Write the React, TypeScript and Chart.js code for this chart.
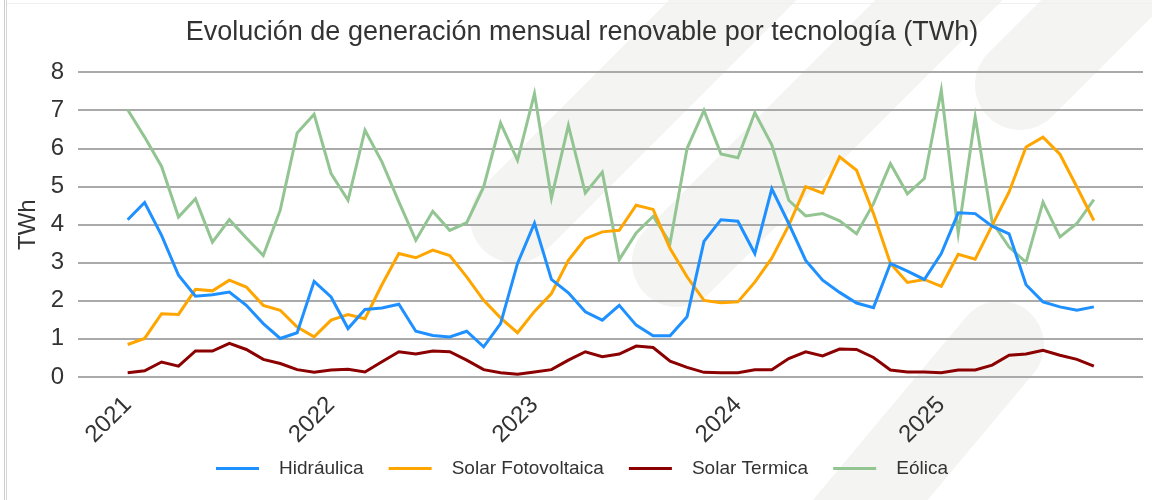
import React, { useEffect, useRef } from 'react';
import { Chart, registerables } from 'chart.js';

Chart.register(...registerables);

// Monthly series, Jan 2021 .. Oct 2025 (TWh)
const years = ['2021', '2022', '2023', '2024', '2025'];
const monthNames = ['ene', 'feb', 'mar', 'abr', 'may', 'jun', 'jul', 'ago', 'sep', 'oct', 'nov', 'dic'];

const hidraulica = [
  4.13, 4.58, 3.72, 2.67, 2.12, 2.16, 2.23, 1.88, 1.40, 1.01,
  1.16, 2.51, 2.10, 1.27, 1.77, 1.81, 1.91, 1.20, 1.09, 1.05,
  1.20, 0.79, 1.40, 2.98, 4.04, 2.56, 2.21, 1.71, 1.49, 1.88,
  1.36, 1.08, 1.08, 1.58, 3.56, 4.13, 4.09, 3.24, 4.94, 4.03,
  3.06, 2.54, 2.22, 1.94, 1.82, 2.98, 2.78, 2.56, 3.24, 4.31,
  4.29, 3.96, 3.76, 2.42, 1.97, 1.84, 1.75, 1.84,
];

const solarFotovoltaica = [
  0.85, 1.01, 1.66, 1.64, 2.30, 2.26, 2.54, 2.36, 1.88, 1.75,
  1.31, 1.05, 1.49, 1.64, 1.53, 2.42, 3.24, 3.13, 3.33, 3.19,
  2.63, 2.01, 1.55, 1.16, 1.72, 2.19, 3.06, 3.63, 3.81, 3.85,
  4.51, 4.40, 3.37, 2.63, 2.01, 1.95, 1.97, 2.49, 3.12, 3.98,
  5.00, 4.83, 5.78, 5.43, 4.29, 2.98, 2.48, 2.56, 2.38, 3.22,
  3.09, 3.98, 4.86, 6.04, 6.30, 5.85, 4.99, 4.11,
];

const solarTermica = [
  0.11, 0.16, 0.39, 0.28, 0.68, 0.68, 0.88, 0.72, 0.46, 0.35,
  0.19, 0.12, 0.18, 0.20, 0.13, 0.40, 0.66, 0.60, 0.68, 0.66,
  0.44, 0.19, 0.11, 0.07, 0.13, 0.19, 0.44, 0.66, 0.53, 0.60,
  0.81, 0.77, 0.41, 0.25, 0.12, 0.11, 0.11, 0.19, 0.19, 0.48,
  0.66, 0.55, 0.73, 0.72, 0.51, 0.18, 0.13, 0.13, 0.11, 0.18,
  0.18, 0.31, 0.57, 0.60, 0.70, 0.57, 0.46, 0.28,
];

const eolica = [
  7.02, 6.30, 5.53, 4.20, 4.68, 3.54, 4.13, 3.65, 3.19, 4.38,
  6.41, 6.90, 5.34, 4.64, 6.48, 5.65, 4.60, 3.59, 4.35, 3.85,
  4.05, 4.99, 6.67, 5.69, 7.44, 4.70, 6.61, 4.83, 5.38, 3.08,
  3.78, 4.22, 3.52, 6.00, 7.00, 5.86, 5.76, 6.94, 6.10, 4.64,
  4.23, 4.29, 4.10, 3.76, 4.55, 5.60, 4.81, 5.21, 7.53, 3.78,
  6.83, 4.07, 3.41, 3.01, 4.59, 3.68, 4.03, 4.66,
];

const months: string[] = [];
years.forEach((y) => monthNames.forEach((m) => months.push(`${m} ${y}`)));

const seriesNames = ['Hidráulica', 'Solar Fotovoltaica', 'Solar Termica', 'Eólica'];
const seriesColors = ['#1e90ff', '#ffa500', '#8b0000', '#93c593'];
const seriesValues = [hidraulica, solarFotovoltaica, solarTermica, eolica];

const FONT = "'Liberation Sans', Arial, sans-serif";

const PAD_LEFT = 21;

// faint background watermark (decorative rounded diagonal bars)
const watermarkBars = [
  { x0: 515, y0: 218, x1: 800, y1: -67, w: 90 },
  { x0: 677, y0: 262, x1: 1000, y1: -61, w: 90 },
  { x0: 1020, y0: 85, x1: 1200, y1: -95, w: 90 },
  { x0: 820, y0: 560, x1: 1000, y1: 345, w: 88 },
];

const watermarkPlugin = {
  id: 'watermark',
  beforeDraw(chart: any) {
    const ctx = chart.ctx;
    ctx.save();
    ctx.strokeStyle = '#f4f4f2';
    ctx.lineCap = 'round';
    watermarkBars.forEach((b) => {
      ctx.lineWidth = b.w;
      ctx.beginPath();
      ctx.moveTo(b.x0, b.y0);
      ctx.lineTo(b.x1, b.y1);
      ctx.stroke();
    });
    ctx.restore();
  },
};

export default function App() {
  const ref = useRef<HTMLCanvasElement>(null);

  useEffect(() => {
    if (!ref.current) return;
    const chart = new Chart(ref.current, {
      type: 'line',
      plugins: [watermarkPlugin],
      data: {
        datasets: seriesValues.map((vals, i) => ({
          label: seriesNames[i],
          data: vals.map((v, k) => ({ x: k, y: v, m: months[k] })),
          borderColor: seriesColors[i],
          backgroundColor: seriesColors[i],
          borderWidth: 3,
          pointRadius: 0,
          tension: 0,
          fill: false,
        })),
      },
      options: {
        animation: false,
        responsive: false,
        maintainAspectRatio: false,
        layout: { padding: { left: PAD_LEFT, right: 9, top: 0, bottom: 12 } },
        plugins: {
          tooltip: { enabled: false },
          title: {
            display: true,
            text: 'Evolución de generación mensual renovable por tecnología (TWh)',
            color: '#333333',
            font: { family: FONT, size: 27, weight: 'normal' },
            padding: { top: 16, bottom: 24 },
          },
          legend: {
            display: true,
            position: 'bottom',
            labels: {
              boxWidth: 43,
              boxHeight: 3,
              padding: 4,
              color: '#333333',
              font: { family: FONT, size: 19 },
              generateLabels: (c: any) =>
                c.data.datasets.map((ds: any, i: number, arr: any[]) => ({
                  text: '  ' + ds.label + (i < arr.length - 1 ? '    ' : ''),
                  fillStyle: ds.borderColor,
                  strokeStyle: ds.borderColor,
                  lineWidth: 0,
                  hidden: false,
                  datasetIndex: i,
                  fontColor: '#333333',
                })),
            },
          },
        },
        scales: {
          x: {
            type: 'linear',
            min: -2.93,
            max: 59.9,
            grid: { display: false },
            border: { display: false },
            afterBuildTicks: (s: any) => {
              s.ticks = years.map((_, k) => ({ value: k * 12 }));
            },
            ticks: {
              autoSkip: false,
              minRotation: 45,
              maxRotation: 45,
              color: '#333333',
              font: { family: FONT, size: 24 },
              padding: 6,
              callback: (_v: any, idx: number) => years[idx],
            },
          },
          y: {
            min: 0,
            max: 8,
            afterFit: (s: any) => {
              s.width = 78 - PAD_LEFT;
            },
            grid: { color: '#aaaaaa', lineWidth: 2, drawTicks: false },
            border: { display: false },
            ticks: {
              stepSize: 1,
              padding: 14,
              color: '#333333',
              font: { family: FONT, size: 24 },
            },
            title: {
              display: true,
              text: 'TWh',
              color: '#333333',
              font: { family: FONT, size: 24 },
              padding: { top: 14 - PAD_LEFT, bottom: 0 },
            },
          },
        },
      },
    });
    return () => chart.destroy();
  }, []);

  return (
    <div style={{ position: 'absolute', left: 0, top: 0, width: 1152, height: 500, background: '#ffffff', overflow: 'hidden' }}>
      <canvas ref={ref} width={1152} height={500} style={{ display: 'block', width: 1152, height: 500 }} />
      <div style={{ position: 'absolute', left: 4, top: 0, width: 1, height: 500, background: '#cccccc' }} />
      <div style={{ position: 'absolute', left: 6, top: 0, width: 1, height: 500, background: '#d6d6d6' }} />
      <div style={{ position: 'absolute', left: 7, top: 3, width: 1145, height: 1, background: '#f0f0f0' }} />
    </div>
  );
}
